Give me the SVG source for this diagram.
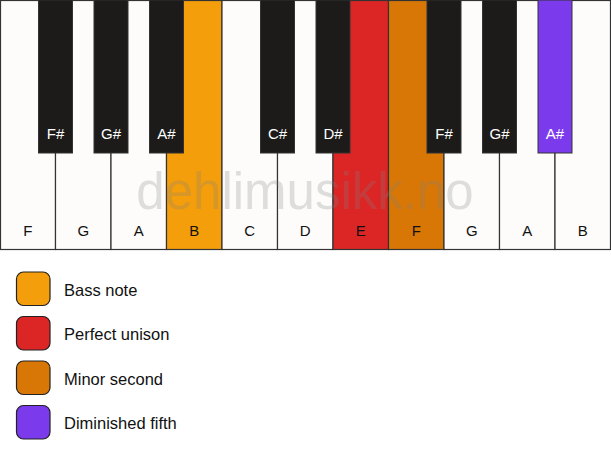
<svg xmlns="http://www.w3.org/2000/svg" width="611" height="461" viewBox="0 0 611 461">
<style>
.w{fill:#fdfcfa;stroke:#333;stroke-width:1.2}
.b{fill:#1c1b1a;stroke:#333;stroke-width:1}
.wl{font-family:"Liberation Sans",Arial,sans-serif;font-size:15px;fill:#111;text-anchor:middle}
.bl{font-family:"Liberation Sans",Arial,sans-serif;font-size:15px;fill:#fff;text-anchor:middle}
.lg{font-family:"Liberation Sans",Arial,sans-serif;font-size:16.5px;fill:#111}
.sw{stroke:#222;stroke-width:1.2}
</style>
<rect width="611" height="461" fill="#fff"/>
<g id="white-keys">
<g id="key-F1"><rect class="w" x="0.5" y="0.5" width="55" height="249"/><text class="wl" x="27.75" y="236">F</text></g>
<g id="key-G1"><rect class="w" x="55.5" y="0.5" width="55.5" height="249"/><text class="wl" x="83.25" y="236">G</text></g>
<g id="key-A1"><rect class="w" x="111" y="0.5" width="55.5" height="249"/><text class="wl" x="138.75" y="236">A</text></g>
<g id="key-B1"><rect class="w" x="166.5" y="0.5" width="55.5" height="249" style="fill:#f59e0b"/><text class="wl" x="194.25" y="236">B</text></g>
<g id="key-C"><rect class="w" x="222" y="0.5" width="55.5" height="249"/><text class="wl" x="249.75" y="236">C</text></g>
<g id="key-D"><rect class="w" x="277.5" y="0.5" width="55.5" height="249"/><text class="wl" x="305.25" y="236">D</text></g>
<g id="key-E"><rect class="w" x="333" y="0.5" width="55.5" height="249" style="fill:#dc2626"/><text class="wl" x="360.75" y="236">E</text></g>
<g id="key-F2"><rect class="w" x="388.5" y="0.5" width="55.5" height="249" style="fill:#d97706"/><text class="wl" x="416.25" y="236">F</text></g>
<g id="key-G2"><rect class="w" x="444" y="0.5" width="55.5" height="249"/><text class="wl" x="471.75" y="236">G</text></g>
<g id="key-A2"><rect class="w" x="499.5" y="0.5" width="55.5" height="249"/><text class="wl" x="527.25" y="236">A</text></g>
<g id="key-B2"><rect class="w" x="555" y="0.5" width="55.5" height="249"/><text class="wl" x="582.75" y="236">B</text></g>
</g>
<g id="black-keys">
<g id="key-Fs1"><rect class="b" x="38.5" y="0" width="34" height="153"/><text class="bl" x="55.5" y="138.5">F#</text></g>
<g id="key-Gs1"><rect class="b" x="94" y="0" width="34" height="153"/><text class="bl" x="111" y="138.5">G#</text></g>
<g id="key-As1"><rect class="b" x="149.5" y="0" width="34" height="153"/><text class="bl" x="166.5" y="138.5">A#</text></g>
<g id="key-Cs"><rect class="b" x="260.5" y="0" width="34" height="153"/><text class="bl" x="277.5" y="138.5">C#</text></g>
<g id="key-Ds"><rect class="b" x="316" y="0" width="34" height="153"/><text class="bl" x="333" y="138.5">D#</text></g>
<g id="key-Fs2"><rect class="b" x="427" y="0" width="34" height="153"/><text class="bl" x="444" y="138.5">F#</text></g>
<g id="key-Gs2"><rect class="b" x="482.5" y="0" width="34" height="153"/><text class="bl" x="499.5" y="138.5">G#</text></g>
<g id="key-As2"><rect class="b" x="538" y="0" width="34" height="153" style="fill:#7c3aed"/><text class="bl" x="555" y="138.5">A#</text></g>
</g>
<text id="watermark" x="305" y="209" font-family="'Liberation Sans',Arial,sans-serif" font-size="51" fill="#808080" fill-opacity="0.25" text-anchor="middle">dehlimusikk.no</text>
<g id="legend">
<g id="legend-bass"><rect class="sw" x="16.5" y="272" width="33.5" height="33.5" rx="7" fill="#f59e0b"/><text class="lg" x="64" y="295.7">Bass note</text></g>
<g id="legend-unison"><rect class="sw" x="16.5" y="316.5" width="33.5" height="33.5" rx="7" fill="#dc2626"/><text class="lg" x="64" y="340.2">Perfect unison</text></g>
<g id="legend-minor2"><rect class="sw" x="16.5" y="361" width="33.5" height="33.5" rx="7" fill="#d97706"/><text class="lg" x="64" y="384.7">Minor second</text></g>
<g id="legend-dim5"><rect class="sw" x="16.5" y="405.5" width="33.5" height="33.5" rx="7" fill="#7c3aed"/><text class="lg" x="64" y="429.2">Diminished fifth</text></g>
</g>
<g id="connectors"/>
</svg>
